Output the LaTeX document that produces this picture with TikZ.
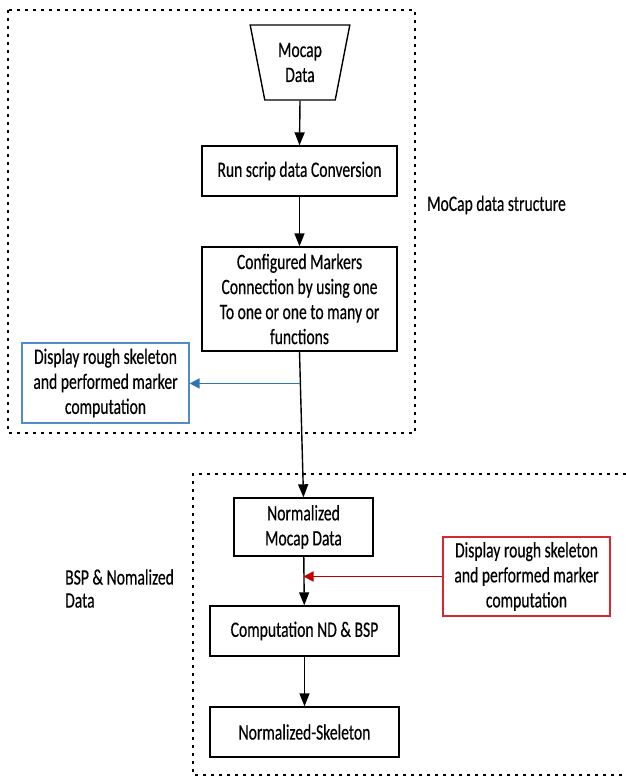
\documentclass[tikz,border=0pt]{standalone}
\usepackage{fontspec}
\setmainfont{Carlito}[FakeStretch=0.71, FakeBold=0.4]
\usetikzlibrary{arrows.meta,shapes.geometric,calc}
\definecolor{flowblue}{RGB}{46,117,182}
\definecolor{boxblue}{RGB}{80,140,200}
\definecolor{flowred}{RGB}{192,0,0}
\definecolor{boxred}{RGB}{215,40,50}
\tikzset{
  every node/.style={font=\fontsize{22}{25}\selectfont, inner sep=0pt},
  stepbox/.style={draw, line width=1.4pt, align=center},
  sidebox/.style={draw=#1, line width=1.3pt, align=center, fill=white},
  flow/.style={line width=1.4pt, -{Triangle[length=13pt,width=10pt]}},
  sideflow/.style={line width=1.8pt, draw=#1, -{Triangle[length=10pt,width=10pt,fill=#1]}},
  groupframe/.style={line width=2.8pt, dash pattern=on 2.8pt off 5.2pt},
}
\begin{document}
\begin{tikzpicture}[x=1pt, y=-1pt]
\useasboundingbox (0,0) rectangle (626,779);

% dotted group frames
\draw[groupframe] (8,10) rectangle (415,433);
\draw[groupframe] (626,474) -- (193,474) -- (193,775) -- (626,775);

% input trapezoid
\node[trapezium, trapezium stretches=true, shape border rotate=180,
      trapezium angle=77, draw, line width=1.4pt,
      minimum width=100pt, minimum height=75pt, align=center]
      (mocap) at (300,62.5) {Mocap\\Data};

% process steps
\node[stepbox, minimum width=195pt, minimum height=50pt] (run) at (299.5,171) {Run scrip data Conversion};
\node[stepbox, minimum width=195pt, minimum height=104pt] (conf) at (299.5,299)
  {Configured Markers\\Connection by using one\\To one or one to many or\\functions};
\node[stepbox, minimum width=139pt, minimum height=58pt] (norm) at (303.5,527) {Normalized\\Mocap Data};
\node[stepbox, minimum width=189pt, minimum height=50pt] (comp) at (304.5,631) {Computation ND \& BSP};
\node[stepbox, minimum width=189pt, minimum height=50pt] (skel) at (304.5,732) {Normalized-Skeleton};

% side outputs
\node[sidebox=boxblue, minimum width=167pt, minimum height=80pt] (blue) at (105.5,383)
  {Display rough skeleton\\and performed marker\\computation};
\node[sidebox=boxred, minimum width=167pt, minimum height=79pt] (red) at (526.5,576.5)
  {Display rough skeleton\\and performed marker\\computation};

% group labels
\node[anchor=west] (lbltop) at (427,205) {MoCap data structure};
\node[anchor=west, align=left, font=\fontsize{22}{23}\selectfont] (lblbot) at (65,588.5) {BSP \& Nomalized\\Data};

% connectors
\draw[flow] (mocap.south) -- (run.north);
\draw[flow] (run) -- (conf);
\draw[flow] (conf.south) -- (norm.north);
\draw[flow] (norm) -- (comp);
\draw[flow] (comp) -- (skel);

\coordinate (bluefork) at ($(conf.south)!0.218!(norm.north)$);
\draw[sideflow=flowblue] (bluefork) -- (blue.east |- bluefork);
\coordinate (redjoin) at (norm.south |- red.west);
\draw[sideflow=flowred] (red.west) -- (redjoin);
\end{tikzpicture}
\end{document}
